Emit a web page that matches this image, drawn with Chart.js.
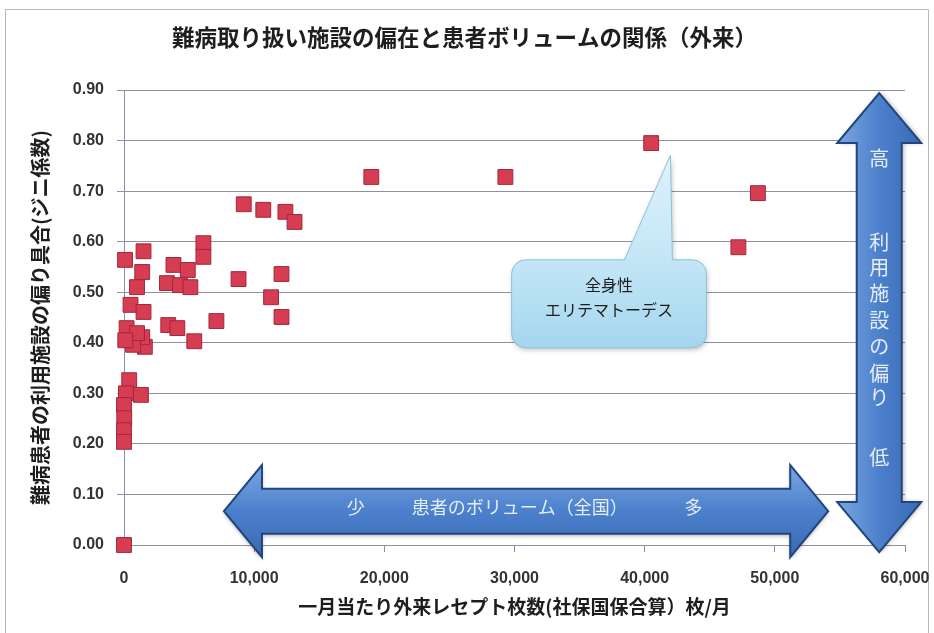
<!DOCTYPE html>
<html lang="ja">
<head>
<meta charset="utf-8">
<title>難病取り扱い施設の偏在と患者ボリュームの関係（外来）</title>
<script src="https://cdn.jsdelivr.net/npm/chart.js@4.4.1/dist/chart.umd.min.js"></script>
<style>
  html, body { margin: 0; padding: 0; background: #fff; }
  #wrap { position: relative; width: 934px; height: 633px; }
</style>
</head>
<body>
<div id="wrap"><canvas id="c" width="934" height="633"></canvas></div>
<script>
// Outpatient claims per month for each intractable disease (x)
// against the Gini coefficient of the facilities patients use (y).
const claimsPerMonth = [
  40500, 47200, 48700, 29300, 19000,
  9200, 10700, 12400, 13100, 6100, 6100, 8800, 12100, 11300, 12100, 7100, 5400,
  80, 1500, 1400, 1000, 3800, 4900, 3300, 4300, 5100,
  500, 1500, 200, 500, 1600, 1400, 3400, 4100, 700, 1000, 100,
  1300, 400, 150, 0, 20, 0, 0, 0
];
const giniCoefficient = [
  0.795, 0.589, 0.696, 0.728, 0.728,
  0.674, 0.663, 0.659, 0.639, 0.597, 0.570, 0.526, 0.536, 0.490, 0.451, 0.443, 0.403,
  0.564, 0.581, 0.540, 0.510, 0.554, 0.544, 0.518, 0.514, 0.510,
  0.475, 0.461, 0.429, 0.405, 0.392, 0.411, 0.435, 0.429, 0.396, 0.419, 0.405,
  0.297, 0.326, 0.300, 0.277, 0.251, 0.227, 0.204, 0.000
];
const xTickValues = [0, 10000, 20000, 30000, 40000, 50000, 60000];
const yTickValues = [0, 0.1, 0.2, 0.3, 0.4, 0.5, 0.6, 0.7, 0.8, 0.9];

const chartTitle = '難病取り扱い施設の偏在と患者ボリュームの関係（外来）';
const xTitle = '一月当たり外来レセプト枚数(社保国保合算）枚/月';
const yTitle = '難病患者の利用施設の偏り具合(ジニ係数)';
const calloutLines = ['全身性', 'エリテマトーデス'];
const volumeArrowTexts = ['少', '患者のボリューム（全国）', '多'];
const biasArrowChars = ['高', '利', '用', '施', '設', 'の', '偏', 'り', '低'];

const JP = '"Noto Sans CJK JP", "Noto Sans CJK SC", sans-serif';
const NUM = '"Liberation Sans", Arial, sans-serif';
const gridColor = '#8f8fa2';

const points = claimsPerMonth.map((v, i) => ({ x: v, y: giniCoefficient[i] }));

function arrowPathH(ctx, x1, x2, yc, headHalf, shaftHalf, headLen) {
  ctx.beginPath();
  ctx.moveTo(x1, yc);
  ctx.lineTo(x1 + headLen, yc - headHalf);
  ctx.lineTo(x1 + headLen, yc - shaftHalf);
  ctx.lineTo(x2 - headLen, yc - shaftHalf);
  ctx.lineTo(x2 - headLen, yc - headHalf);
  ctx.lineTo(x2, yc);
  ctx.lineTo(x2 - headLen, yc + headHalf);
  ctx.lineTo(x2 - headLen, yc + shaftHalf);
  ctx.lineTo(x1 + headLen, yc + shaftHalf);
  ctx.lineTo(x1 + headLen, yc + headHalf);
  ctx.closePath();
}

function arrowPathV(ctx, xc, y1, y2, headHalf, shaftHalf, headLen) {
  ctx.beginPath();
  ctx.moveTo(xc, y1);
  ctx.lineTo(xc + headHalf, y1 + headLen);
  ctx.lineTo(xc + shaftHalf, y1 + headLen);
  ctx.lineTo(xc + shaftHalf, y2 - headLen);
  ctx.lineTo(xc + headHalf, y2 - headLen);
  ctx.lineTo(xc, y2);
  ctx.lineTo(xc - headHalf, y2 - headLen);
  ctx.lineTo(xc - shaftHalf, y2 - headLen);
  ctx.lineTo(xc - shaftHalf, y1 + headLen);
  ctx.lineTo(xc - headHalf, y1 + headLen);
  ctx.closePath();
}

// White page with a thin frame around the chart
const framePlugin = {
  id: 'frame',
  beforeDraw(chart) {
    const { ctx, width, height } = chart;
    ctx.save();
    ctx.fillStyle = '#ffffff';
    ctx.fillRect(0, 0, width, height);
    ctx.strokeStyle = '#b8b8b8';
    ctx.lineWidth = 1;
    ctx.beginPath();
    ctx.moveTo(5.5, height + 5);
    ctx.lineTo(5.5, 9.5);
    ctx.lineTo(928.5, 9.5);
    ctx.lineTo(928.5, height + 5);
    ctx.stroke();
    ctx.restore();
  }
};

// Callout and the two blue explanatory arrows
const decorPlugin = {
  id: 'decor',
  afterDatasetsDraw(chart) {
    const { ctx } = chart;
    const xs = chart.scales.x, ys = chart.scales.y;
    const px = v => xs.getPixelForValue(v);
    const py = v => ys.getPixelForValue(v);

    // ---- callout pointing at the SLE point
    const bl = px(29780), br = px(44740), bt = py(0.564), bb = py(0.390);
    const r = 14;
    const pb1 = px(38450), pb2 = px(42130);
    const tipX = px(41980), tipY = py(0.771);
    ctx.save();
    ctx.beginPath();
    ctx.moveTo(bl + r, bt);
    ctx.lineTo(pb1, bt);
    ctx.lineTo(tipX, tipY);
    ctx.lineTo(pb2, bt);
    ctx.lineTo(br - r, bt);
    ctx.arcTo(br, bt, br, bt + r, r);
    ctx.lineTo(br, bb - r);
    ctx.arcTo(br, bb, br - r, bb, r);
    ctx.lineTo(bl + r, bb);
    ctx.arcTo(bl, bb, bl, bb - r, r);
    ctx.lineTo(bl, bt + r);
    ctx.arcTo(bl, bt, bl + r, bt, r);
    ctx.closePath();
    const cg = ctx.createLinearGradient(0, tipY, 0, bb);
    cg.addColorStop(0, '#def2fb');
    cg.addColorStop(0.55, '#c3e6f6');
    cg.addColorStop(1, '#a4d6ee');
    ctx.shadowColor = 'rgba(0,0,0,0.25)';
    ctx.shadowBlur = 5;
    ctx.shadowOffsetX = 1;
    ctx.shadowOffsetY = 2;
    ctx.fillStyle = cg;
    ctx.fill();
    ctx.shadowColor = 'transparent';
    ctx.strokeStyle = '#8cc3dc';
    ctx.lineWidth = 1;
    ctx.stroke();
    ctx.fillStyle = '#1e1e1e';
    ctx.font = '16px ' + JP;
    ctx.textAlign = 'center';
    ctx.textBaseline = 'middle';
    const cx = (bl + br) / 2;
    ctx.fillText(calloutLines[0], cx, bt + 25);
    ctx.fillText(calloutLines[1], cx, bt + 50);
    ctx.restore();

    // ---- horizontal arrow: patient volume
    const hx1 = px(7680), hx2 = px(54100), hyc = py(0.067);
    ctx.save();
    arrowPathH(ctx, hx1, hx2, hyc, 46, 22.5, 38);
    const hg = ctx.createLinearGradient(0, hyc - 46, 0, hyc + 46);
    hg.addColorStop(0, '#7aa7e3');
    hg.addColorStop(0.5, '#4c80cc');
    hg.addColorStop(1, '#3a69b3');
    ctx.shadowColor = 'rgba(0,0,0,0.3)';
    ctx.shadowBlur = 4;
    ctx.shadowOffsetY = 2;
    ctx.fillStyle = hg;
    ctx.fill();
    ctx.shadowColor = 'transparent';
    ctx.strokeStyle = '#22457c';
    ctx.lineWidth = 2;
    ctx.stroke();
    ctx.fillStyle = '#e4edf8';
    ctx.font = '18px ' + JP;
    ctx.textAlign = 'center';
    ctx.textBaseline = 'middle';
    const ty = py(0.075);
    ctx.fillText(volumeArrowTexts[0], px(17800), ty);
    ctx.fillText(volumeArrowTexts[1], px(30400), ty);
    ctx.fillText(volumeArrowTexts[2], px(43750), ty);
    ctx.restore();

    // ---- vertical arrow: facility bias
    const vxc = px(58020), vy1 = py(0.894), vy2 = py(-0.014);
    ctx.save();
    arrowPathV(ctx, vxc, vy1, vy2, 42, 22.5, 50);
    const vg = ctx.createLinearGradient(vxc - 42, 0, vxc + 42, 0);
    vg.addColorStop(0, '#7aa7e3');
    vg.addColorStop(0.5, '#4c80cc');
    vg.addColorStop(1, '#3a69b3');
    ctx.shadowColor = 'rgba(0,0,0,0.3)';
    ctx.shadowBlur = 4;
    ctx.shadowOffsetX = 2;
    ctx.fillStyle = vg;
    ctx.fill();
    ctx.shadowColor = 'transparent';
    ctx.strokeStyle = '#22457c';
    ctx.lineWidth = 2;
    ctx.stroke();
    ctx.fillStyle = '#e4edf8';
    ctx.font = '20px ' + JP;
    ctx.textAlign = 'center';
    ctx.textBaseline = 'middle';
    const charY = [0.765, 0.599, 0.550, 0.498, 0.445, 0.392, 0.340, 0.291, 0.174];
    biasArrowChars.forEach((ch, i) => ctx.fillText(ch, vxc, py(charY[i])));
    ctx.restore();
  }
};

new Chart(document.getElementById('c'), {
  type: 'scatter',
  data: {
    datasets: [{
      data: points,
      pointStyle: 'rect',
      pointRadius: 10.5,
      pointHoverRadius: 10.5,
      backgroundColor: '#d63c52',
      borderColor: '#a3283b',
      borderWidth: 1,
      clip: false
    }]
  },
  options: {
    responsive: false,
    animation: false,
    events: [],
    layout: { padding: { left: 24, right: 29, top: 0, bottom: 0 } },
    plugins: {
      legend: { display: false },
      tooltip: { enabled: false },
      title: {
        display: true,
        text: chartTitle,
        color: '#1e1e1e',
        font: { family: JP, size: 22.5, weight: 'bold' },
        padding: { top: 24, bottom: 39 }
      }
    },
    scales: {
      x: {
        type: 'linear',
        min: 0,
        max: 60000,
        afterFit(s) { s.height = 88; s.paddingLeft = 0; s.paddingRight = 0; },
        afterBuildTicks(s) { s.ticks = xTickValues.map(v => ({ value: v })); },
        grid: { drawOnChartArea: false, drawTicks: true, tickLength: 7, color: gridColor },
        border: { display: true, color: gridColor },
        ticks: {
          color: '#333',
          font: { family: NUM, size: 16, weight: 'bold' },
          padding: 17,
          maxRotation: 0,
          callback: v => v.toLocaleString('en-US')
        },
        title: {
          display: true,
          text: xTitle,
          color: '#1e1e1e',
          font: { family: JP, size: 19, weight: 'bold' },
          padding: { top: 0, bottom: 15 }
        }
      },
      y: {
        type: 'linear',
        min: 0,
        max: 0.9,
        afterFit(s) { s.width = 100; s.paddingTop = 0; s.paddingBottom = 0; },
        afterBuildTicks(s) { s.ticks = yTickValues.map(v => ({ value: v })); },
        grid: { drawTicks: true, tickLength: 7, color: gridColor },
        border: { display: true, color: '#8d8db4' },
        ticks: {
          color: '#333',
          font: { family: NUM, size: 16, weight: 'bold' },
          padding: 13,
          callback: v => v.toFixed(2)
        },
        title: {
          display: true,
          text: yTitle,
          color: '#1e1e1e',
          font: { family: JP, size: 20, weight: 'bold' },
          padding: { top: 4, bottom: 0 }
        }
      }
    }
  },
  plugins: [framePlugin, decorPlugin]
});
</script>
</body>
</html>
